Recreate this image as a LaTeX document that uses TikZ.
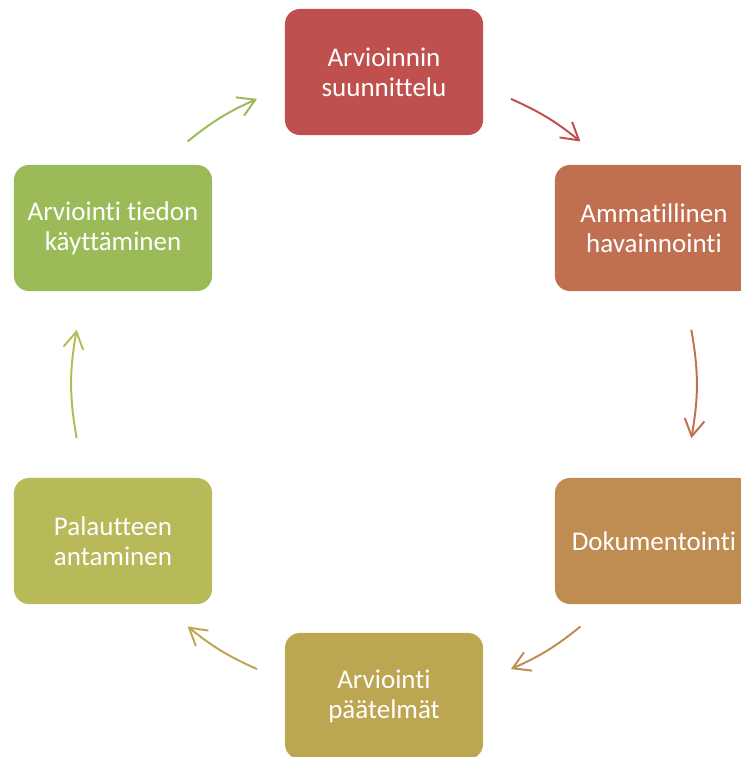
\documentclass[tikz,border=0pt]{standalone}
\usepackage{fontspec}
\setmainfont{Carlito}[Ligatures=NoCommon]
\usetikzlibrary{arrows.meta}
\definecolor{stepA}{RGB}{192,80,77}
\definecolor{stepB}{RGB}{192,112,80}
\definecolor{stepC}{RGB}{191,140,82}
\definecolor{stepD}{RGB}{189,166,82}
\definecolor{stepE}{RGB}{184,185,88}
\definecolor{stepF}{RGB}{155,187,89}
\begin{document}
\begin{tikzpicture}[x=0.025cm,y=-0.025cm,
    phase/.style={rounded corners=0.375cm, minimum width=4.95cm, minimum height=3.15cm,
      text=white, align=center, font=\fontsize{19.2}{21.5}\selectfont},
    cyc/.style={line width=1.4pt, -{Straight Barb[length=4.2mm,width=5mm]}}]
         \clip (0,0) rectangle (741,757);
         \node (C) at (384,384) {};
         \node [phase, fill=stepA] (T) at (384,72) {Arvioinnin\\suunnittelu};
         \node [phase, fill=stepB] (RT) at (654,228) {Ammatillinen\\havainnointi};
         \node [phase, fill=stepC] (RB) at (654,541) {Dokumentointi};
         \node [phase, fill=stepD] (B) at (384,696) {Arviointi\\päätelmät};
         \node [phase, fill=stepE] (LB) at (113,541) {Palautteen\\antaminen};
         \node [phase, fill=stepF] (LT) at (113,228) {Arviointi tiedon\\käyttäminen};
         % arrow ends on the cycle circle
         \coordinate (a1) at ([shift={(66:7.8cm)}]C.center);
         \coordinate (b1) at ([shift={(51:7.8cm)}]C.center);
         \coordinate (a2) at ([shift={(10:7.8cm)}]C.center);
         \coordinate (b2) at ([shift={(-10:7.8cm)}]C.center);
         \coordinate (a3) at ([shift={(-51:7.8cm)}]C.center);
         \coordinate (b3) at ([shift={(-66:7.8cm)}]C.center);
         \coordinate (a4) at ([shift={(-114:7.8cm)}]C.center);
         \coordinate (b4) at ([shift={(-129:7.8cm)}]C.center);
         \coordinate (a5) at ([shift={(190:7.8cm)}]C.center);
         \coordinate (b5) at ([shift={(170:7.8cm)}]C.center);
         \coordinate (a6) at ([shift={(129:7.8cm)}]C.center);
         \coordinate (b6) at ([shift={(114:7.8cm)}]C.center);
         \draw [cyc, stepA] (a1) to [bend left=7.5] (b1);
         \draw [cyc, stepB] (a2) to [bend left=10] (b2);
         \draw [cyc, stepC] (a3) to [bend left=7.5] (b3);
         \draw [cyc, stepD] (a4) to [bend left=7.5] (b4);
         \draw [cyc, stepE] (a5) to [bend left=10] (b5);
         \draw [cyc, stepF] (a6) to [bend left=7.5] (b6);
\end{tikzpicture}
\end{document}
